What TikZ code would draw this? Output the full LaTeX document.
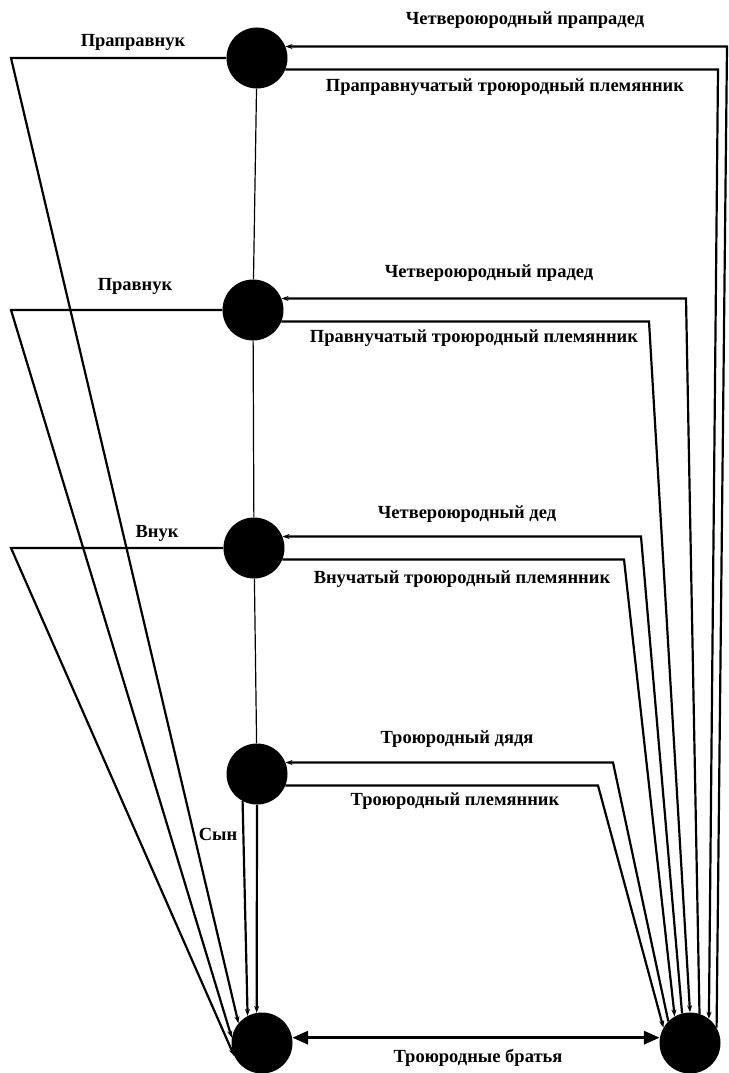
\documentclass[tikz,border=0pt]{standalone}
\usepackage{fontspec}
\setmainfont{Liberation Serif}
\usetikzlibrary{arrows.meta}
\tikzset{>={Stealth[length=7pt,width=5pt]}}
\tikzset{
  dot/.style={circle,fill=black,minimum size=61pt,inner sep=0pt},
  lnk/.style={line width=2.2pt},
  lbl/.style={font=\bfseries\fontsize{18.5}{20}\selectfont,inner sep=0pt}
}

\begin{document}
\begin{tikzpicture}[x=1pt,y=-1pt]
\useasboundingbox (0,0) rectangle (728,1073);
\node[dot] (N4) at (257,58) {};
\node[dot] (N3) at (253,310) {};
\node[dot] (N2) at (254,548) {};
\node[dot] (N1) at (257,774) {};
\node[dot] (N0) at (262,1043) {};
\node[dot] (B) at (690,1043) {};
\draw[line width=1.2pt] (N4) -- (N3) -- (N2) -- (N1);
% left side
\coordinate (L4) at (11,58);
\coordinate (L3) at (11,310);
\coordinate (L2) at (11,548);
\draw[lnk,->] (N4.west) -- (L4) -- (N0.140);
\draw[lnk,->] (N3.west) -- (L3) -- (N0.170);
\draw[lnk,->] (N2.west) -- (L2) -- (N0.205);
\draw[lnk,->] (N1.242) -- (N0.118);
\draw[lnk,->] (N1.south) -- (N0.100);
\node[lbl] at (133,42) {Праправнук};
\node[lbl] at (135,286) {Правнук};
\node[lbl] at (157,533) {Внук};
\node[lbl] at (218,834) {Сын};
% right side
\draw[lnk,<-] (N4.22) -- (N4.22 -| 727,0) -- (B.30);
\draw[lnk,->] (N4.-22) -- (N4.-22 -| 718,0) -- (B.52);
\draw[lnk,<-] (N3.22) -- (N3.22 -| 686,0) -- (B.72);
\draw[lnk,->] (N3.-22) -- (N3.-22 -| 649,0) -- (B.90);
\draw[lnk,<-] (N2.22) -- (N2.22 -| 641,0) -- (B.105);
\draw[lnk,->] (N2.-22) -- (N2.-22 -| 624,0) -- (B.120);
\draw[lnk,<-] (N1.22) -- (N1.22 -| 613,0) -- (B.135);
\draw[lnk,->] (N1.-22) -- (N1.-22 -| 598,0) -- (B.150);
\node[lbl] at (525,20) {Четвероюродный прапрадед};
\node[lbl] at (505,87) {Праправнучатый троюродный племянник};
\node[lbl] at (489,273) {Четвероюродный прадед};
\node[lbl] at (474,338) {Правнучатый троюродный племянник};
\node[lbl] at (467,514) {Четвероюродный дед};
\node[lbl] at (462,579) {Внучатый троюродный племянник};
\node[lbl] at (457,739) {Троюродный дядя};
\node[lbl] at (455,801) {Троюродный племянник};
% bottom
\draw[line width=3.5pt,{Triangle[length=16pt,width=13pt]}-{Triangle[length=16pt,width=13pt]}] (N0.10) -- (B.170);
\node[lbl] at (478,1058) {Троюродные братья};
\end{tikzpicture}
\end{document}
